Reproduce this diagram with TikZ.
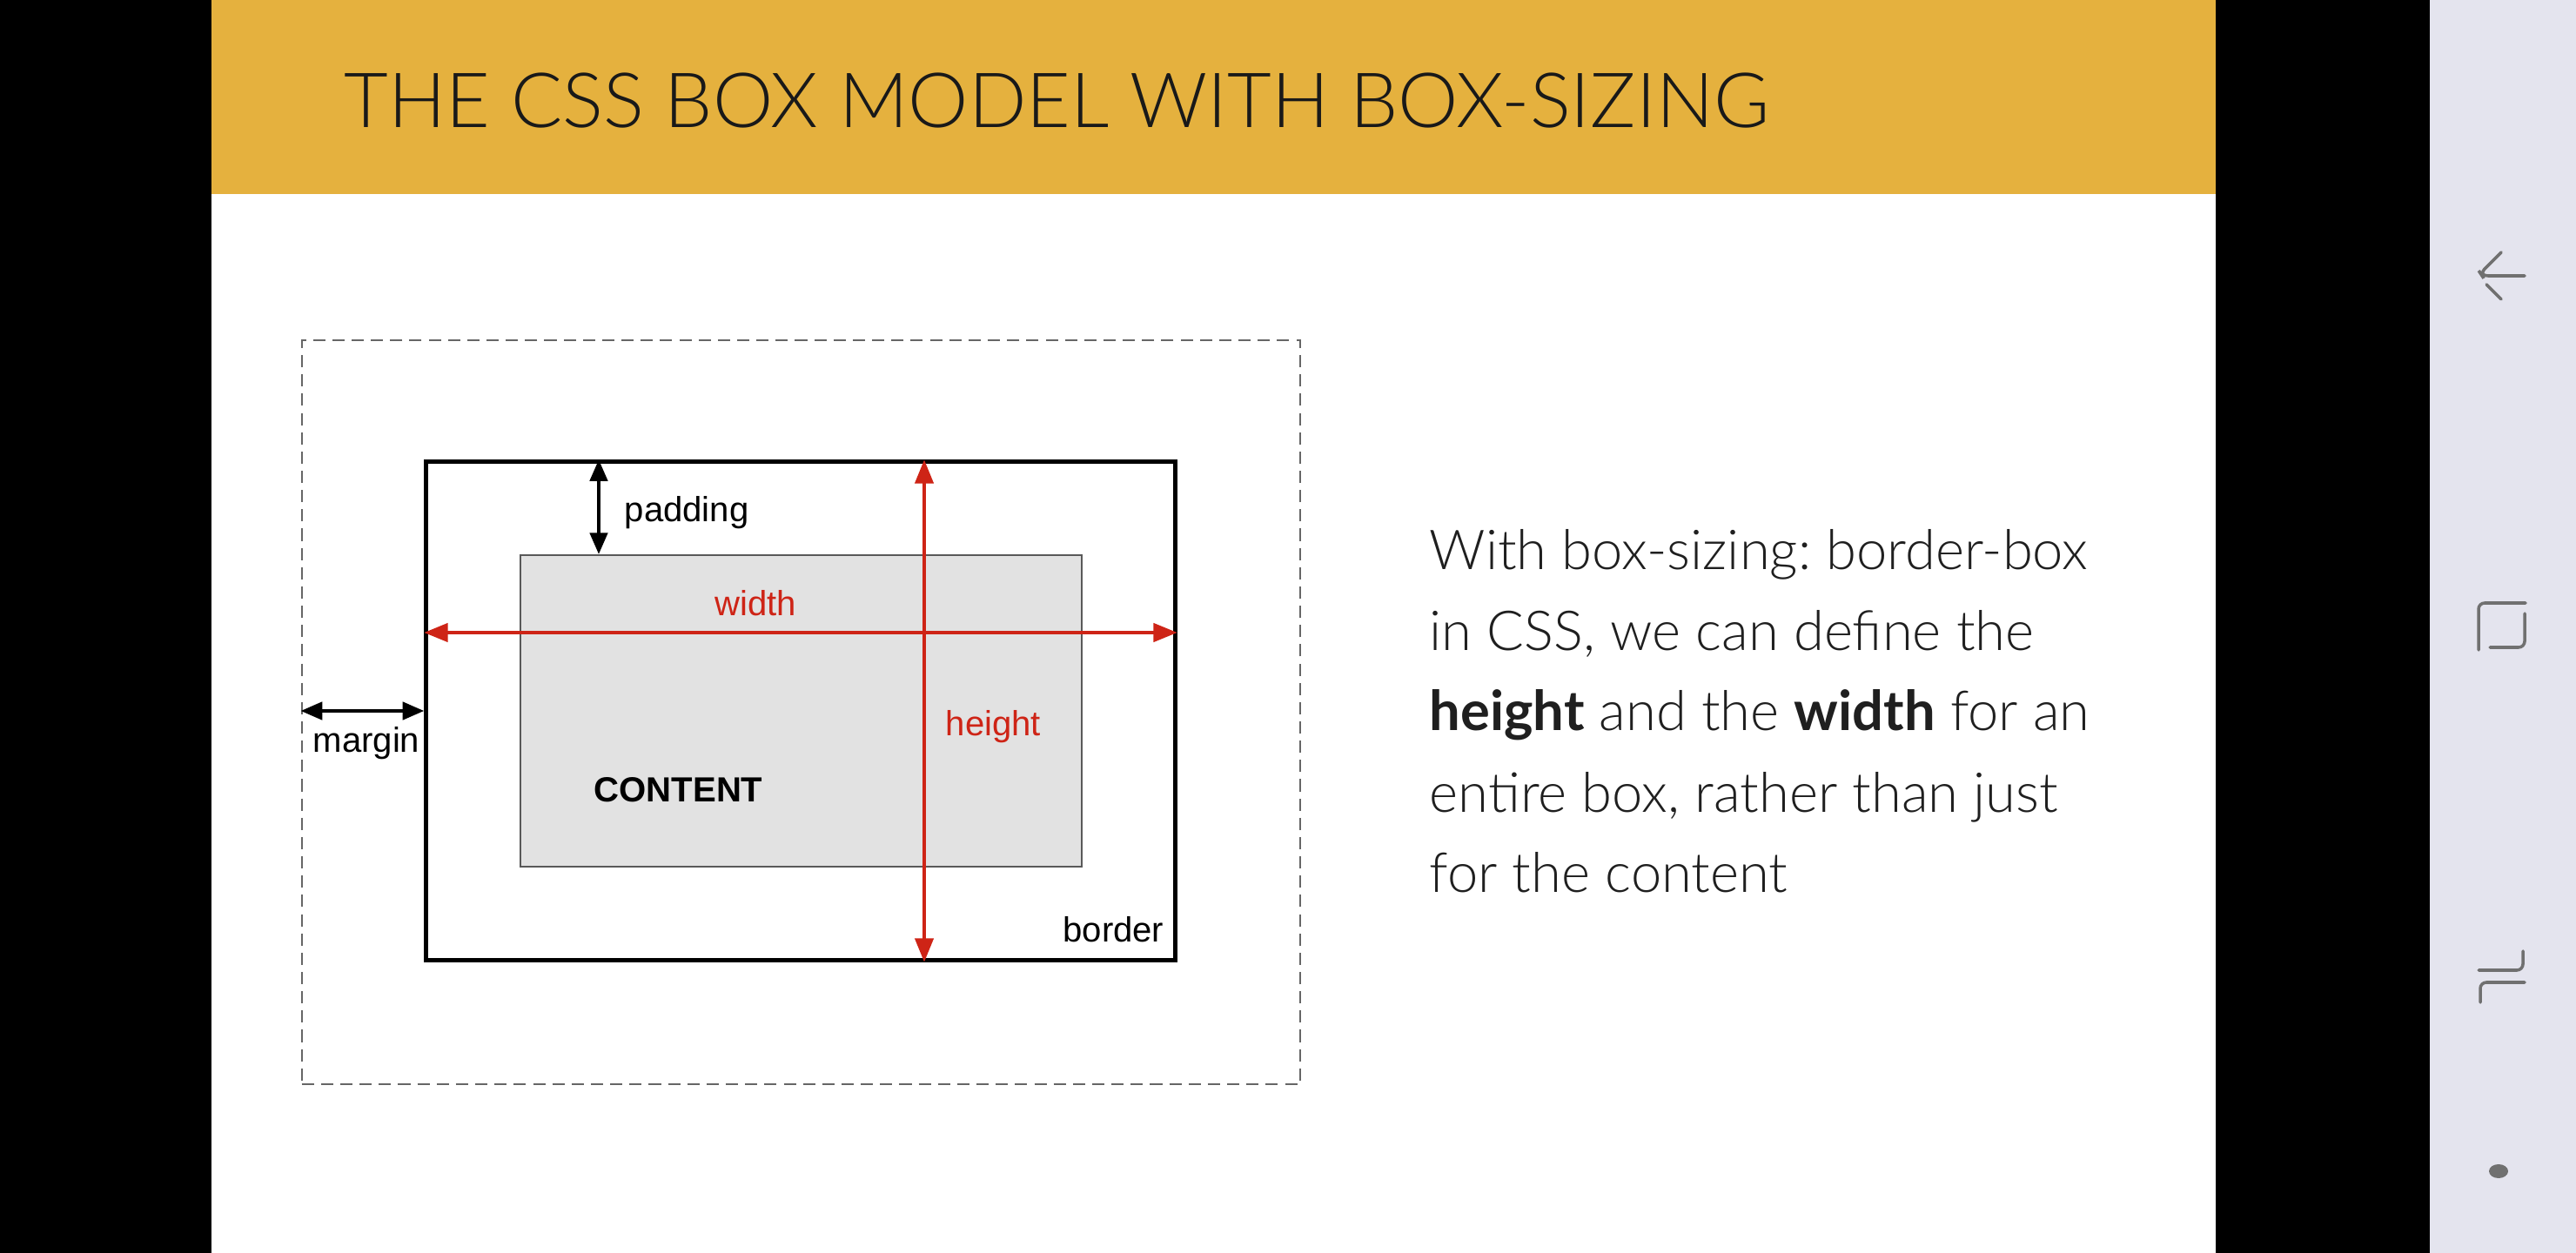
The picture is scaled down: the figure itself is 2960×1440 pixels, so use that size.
\documentclass[tikz,border=0pt]{standalone}
\usepackage{fontspec}
\usetikzlibrary{arrows.meta}
\setmainfont{Liberation Sans}
\IfFontExistsTF{Lato Light}{\newfontfamily\latolight{Lato Light}}{\newfontfamily\latolight{Lato}}
\newfontfamily\latoreg{Lato}
\frenchspacing
\definecolor{gold}{RGB}{229,177,62}
\definecolor{navbg}{RGB}{228,228,238}
\definecolor{navic}{RGB}{112,112,112}
\definecolor{cssred}{RGB}{206,36,22}
\definecolor{contentgray}{RGB}{226,226,226}
\tikzset{
  lbl/.style={font=\fontsize{11.4pt}{13pt}\selectfont, inner sep=0pt},
  redlbl/.style={lbl, text=cssred},
  bodytxt/.style={font=\latolight\fontsize{18pt}{22pt}\selectfont, text=black!88, inner sep=0pt, anchor=base west},
  redarrow/.style={draw=cssred, line width=1.14pt, {Triangle[length=7.8pt,width=6pt]}-{Triangle[length=7.8pt,width=6pt]}},
  blkarrow/.style={draw=black, line width=1pt, {Triangle[length=7pt,width=5.8pt]}-{Triangle[length=7pt,width=5.8pt]}},
  navicon/.style={draw=navic, line width=1pt, line cap=round, rounded corners=0.07cm},
}
\begin{document}
\begin{tikzpicture}[x=0.01cm, y=-0.01cm]
\useasboundingbox (0,0) rectangle (2960,1440);
% backgrounds
\fill[black] (0,0) rectangle (2960,1440);
\fill[white] (243,0) rectangle (2546,1440);
\fill[gold] (243,0) rectangle (2546,223);
\fill[navbg] (2792,0) rectangle (2960,1440);
% title
\node[font=\latolight\fontsize{24.9pt}{30pt}\selectfont, text=black!90, inner sep=0pt, anchor=base west] (title) at (395,147) {THE CSS BOX MODEL WITH BOX-SIZING};
% diagram boxes
\node[draw=black!60, line width=0.57pt, dash pattern=on 4pt off 2.3pt, minimum width=11.47cm, minimum height=8.55cm, inner sep=0pt] (margin) at (920.5,818.5) {};
\node[draw=black, line width=1.45pt, minimum width=8.6cm, minimum height=5.72cm, inner sep=0pt] (border) at (920,817) {};
\node[draw=black!65, fill=contentgray, line width=0.57pt, minimum width=6.45cm, minimum height=3.58cm, inner sep=0pt] (content) at (920.5,817) {};
% helper coordinates
\coordinate (padx) at (688,0);
\coordinate (wy) at (0,727);
\coordinate (hx) at (1062,0);
% arrows
\draw[blkarrow] (border.north -| padx) -- (content.north -| padx);
\draw[blkarrow] (margin.west |- border.west) -- (border.west);
\draw[redarrow] (border.west |- wy) -- (border.east |- wy);
\draw[redarrow] (border.north -| hx) -- (border.south -| hx);
% labels
\node[lbl, anchor=base west] (padlbl) at (717,600) {padding};
\node[lbl, anchor=base west] (marglbl) at (359,864) {margin};
\node[redlbl, anchor=base] (widthlbl) at (868,708) {width};
\node[redlbl, anchor=base west] (heightlbl) at (1086,846) {height};
\node[lbl, anchor=base west, font=\bfseries\fontsize{11.4pt}{13pt}\selectfont] (contentlbl) at (682,922) {CONTENT};
\node[lbl, anchor=base east] (borderlbl) at (1338,1082) {border};
% right text
\node[bodytxt] (t1) at (1642,655) {With box-sizing: border-box};
\node[bodytxt] (t2) at (1642,748) {in CSS, we can define the};
\node[bodytxt] (t3) at (1642,840) {{\latoreg\bfseries height} and the {\latoreg\bfseries width} for an};
\node[bodytxt] (t4) at (1642,933) {entire box, rather than just};
\node[bodytxt] (t5) at (1642,1025) {for the content};
% nav icons
\draw[navicon] (2874,290) -- (2850,314) -- (2852,317) -- (2901,317);
\draw[navicon] (2857,327) -- (2874,344);
\draw[navicon] (2848,747) -- (2848,693) -- (2902,693);
\draw[navicon] (2861,744) -- (2901,744) -- (2901,705);
\draw[navicon] (2848,1115) -- (2899,1115) -- (2899,1093);
\draw[navicon] (2901,1129) -- (2850,1129) -- (2850,1152);
\fill[navic] (2871,1346) ellipse [x radius=11, y radius=8];
\end{tikzpicture}
\end{document}
